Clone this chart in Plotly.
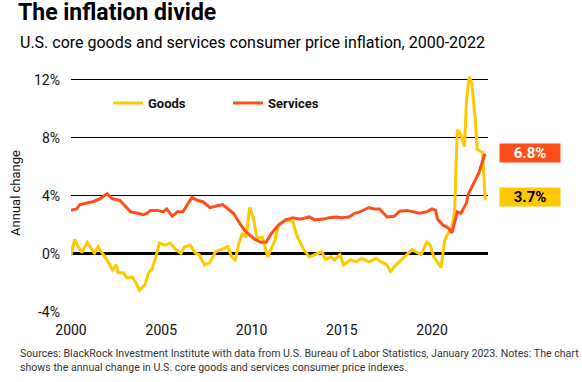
import plotly.graph_objects as go

# ---- data (decimal years, annual % change) ----
services_x = [2000.0, 2000.3, 2000.5, 2000.8, 2001.2, 2001.6, 2002.0, 2002.3, 2002.7, 2003.0,
              2003.3, 2003.7, 2004.0, 2004.2, 2004.4, 2004.8, 2005.1, 2005.3, 2005.6, 2005.9,
              2006.2, 2006.5, 2006.7, 2007.0, 2007.3, 2007.7, 2008.0, 2008.4, 2008.7, 2009.0,
              2009.3, 2009.6, 2009.9, 2010.2, 2010.5, 2010.8, 2011.1, 2011.5, 2011.9, 2012.3,
              2012.7, 2013.2, 2013.5, 2014.0, 2014.3, 2014.7, 2015.0, 2015.4, 2015.7, 2016.0,
              2016.5, 2016.8, 2017.1, 2017.5, 2017.9, 2018.2, 2018.6, 2019.0, 2019.3, 2019.7,
              2020.0, 2020.2, 2020.3, 2020.6, 2020.9, 2021.1, 2021.3, 2021.4, 2021.6, 2021.9,
              2022.0, 2022.3, 2022.6, 2022.8, 2022.9, 2023.0]
services_y = [3.0, 3.1, 3.4, 3.5, 3.6, 3.8, 4.15, 3.8, 3.7, 3.3,
              2.9, 2.8, 2.7, 2.8, 3.0, 3.0, 2.9, 3.1, 2.6, 2.9,
              2.9, 3.5, 3.9, 3.7, 3.6, 3.2, 3.3, 3.4, 3.1, 2.8,
              2.2, 1.65, 1.3, 1.0, 0.8, 0.8, 1.4, 2.0, 2.35, 2.5,
              2.4, 2.55, 2.35, 2.4, 2.5, 2.55, 2.5, 2.55, 2.8, 2.9,
              3.2, 3.1, 3.1, 2.55, 2.6, 2.95, 3.0, 2.9, 2.8, 2.9,
              3.1, 3.0, 2.4, 2.0, 1.8, 1.45, 2.3, 2.9, 2.8, 3.5,
              4.1, 4.9, 5.6, 6.4, 6.8, 6.8]

goods_x = [2000.0, 2000.2, 2000.4, 2000.6, 2000.9, 2001.1, 2001.3, 2001.5, 2001.7, 2002.0,
           2002.3, 2002.5, 2002.6, 2002.9, 2003.1, 2003.4, 2003.6, 2003.8, 2004.1, 2004.3,
           2004.5, 2004.7, 2004.9, 2005.2, 2005.5, 2005.8, 2006.1, 2006.3, 2006.6, 2006.9,
           2007.1, 2007.4, 2007.7, 2008.0, 2008.3, 2008.7, 2008.9, 2009.1, 2009.3, 2009.5,
           2009.7, 2009.9, 2010.1, 2010.3, 2010.6, 2010.9, 2011.3, 2011.5, 2011.9, 2012.3,
           2012.5, 2012.7, 2012.9, 2013.2, 2013.5, 2013.9, 2014.1, 2014.4, 2014.6, 2014.9,
           2015.1, 2015.5, 2015.8, 2016.1, 2016.5, 2016.9, 2017.2, 2017.5, 2017.7, 2018.0,
           2018.3, 2018.6, 2018.9, 2019.1, 2019.4, 2019.7, 2019.9, 2020.1, 2020.3, 2020.5,
           2020.7, 2020.9, 2021.1, 2021.25, 2021.4, 2021.6, 2021.8, 2021.9, 2022.05, 2022.2,
           2022.4, 2022.5, 2022.8, 2022.95]
goods_y = [-0.1, 1.0, 0.5, 0.1, 0.8, 0.4, 0.05, 0.5, 0.1, -0.4,
           -1.1, -0.75, -1.3, -1.3, -1.65, -1.6, -2.0, -2.5, -2.1, -1.3,
           -1.0, -0.2, 0.75, 0.6, 0.75, 0.3, 0.05, 0.5, 0.6, 0.05,
           -0.05, -0.75, -0.6, 0.15, 0.3, 0.5, -0.2, -0.4, 0.75, 1.45,
           1.15, 3.2, 2.5, 1.1, 1.15, -0.2, 0.95, 2.0, 2.35, 2.2,
           1.3, 0.8, 0.3, -0.2, -0.05, 0.15, -0.4, -0.2, -0.4, -0.05,
           -0.75, -0.4, -0.55, -0.3, -0.55, -0.3, -0.55, -0.75, -1.2, -0.75,
           -0.4, -0.05, 0.3, 0.15, -0.05, 0.8, 0.6, -0.2, -0.6, -0.95,
           0.95, 1.45, 1.8, 3.0, 8.55, 8.2, 7.4, 10.4, 12.2, 11.8,
           9.2, 7.2, 7.0, 3.7]

x_ticks = [2000, 2005, 2010, 2015, 2020]
y_ticks = [-4, 0, 4, 8, 12]
y_tick_labels = ["-4%", "0%", "4%", "8%", "12%"]

end_labels = ["6.8%", "3.7%"]
end_values = [6.95, 3.9]

GOLD = "#FFC800"
ORANGE = "#FF4E1B"
FONT = "Roboto, sans-serif"

fig = go.Figure()
fig.add_trace(go.Scatter(x=goods_x, y=goods_y, mode="lines", name="Goods",
                         line=dict(color=GOLD, width=3)))
fig.add_trace(go.Scatter(x=services_x, y=services_y, mode="lines", name="Services",
                         line=dict(color=ORANGE, width=3)))

W, H = 582, 382
L, R, T, B = 71, 94, 74, 70
pw = W - L - R
ph = H - T - B

def px_x(px):
    return (px - L) / pw

def px_y(py):
    return (H - B - py) / ph

fig.update_layout(
    width=W, height=H,
    margin=dict(l=L, r=R, t=T, b=B, autoexpand=False),
    paper_bgcolor="white", plot_bgcolor="white",
    font=dict(family=FONT, color="#111"),
    showlegend=True,
    legend=dict(orientation="h", x=px_x(108), y=px_y(103), xanchor="left", yanchor="middle",
                entrywidth=75, entrywidthmode="pixels",
                font=dict(size=13, weight="bold", color="#111"),
                bgcolor="rgba(0,0,0,0)"),
    title=dict(text="<b>The inflation divide</b>", xref="container", x=18 / W, xanchor="left",
               yref="container", y=1 - 4 / H, yanchor="top",
               font=dict(size=23, family=FONT, color="#000")),
    xaxis=dict(range=[2000, 2023.1], tickvals=x_ticks, ticktext=[str(v) for v in x_ticks],
               showgrid=False, zeroline=False, showline=False, ticks="", automargin=False,
               tickfont=dict(size=14, family=FONT, color="#111"), ticklabelstandoff=8),
    yaxis=dict(range=[-4, 12.4], tickvals=y_ticks, ticktext=y_tick_labels,
               showgrid=True, gridcolor="#000", gridwidth=1.2,
               zeroline=True, zerolinecolor="#000", zerolinewidth=2.5,
               showline=False, ticks="", automargin=False,
               tickfont=dict(size=14, family=FONT, color="#111"), ticklabelstandoff=10,
               title=dict(text="Annual change", font=dict(size=13, family=FONT, color="#111"),
                          standoff=10)),
)

annotations = [
    dict(text="U.S. core goods and services consumer price inflation, 2000-2022",
         xref="paper", yref="paper", x=px_x(18), y=px_y(31), xanchor="left", yanchor="top",
         showarrow=False, font=dict(size=16, family=FONT, color="#000")),
    dict(text="Sources: BlackRock Investment Institute with data from U.S. Bureau of Labor Statistics, January 2023. Notes: The chart<br>shows the annual change in U.S. core goods and services consumer price indexes.",
         xref="paper", yref="paper", x=px_x(18), y=px_y(345), xanchor="left", yanchor="top",
         align="left", showarrow=False, font=dict(size=10.6, family=FONT, color="#333")),
]
box_colors = [ORANGE, GOLD]
text_colors = ["#fff", "#000"]
for lab, val, bc, tc in zip(end_labels, end_values, box_colors, text_colors):
    annotations.append(dict(text="<b>" + lab + "</b>", xref="paper", yref="y",
                            x=px_x(530), y=val, xanchor="center", yanchor="middle",
                            showarrow=False, bgcolor=bc, width=58, height=16,
                            font=dict(size=15, family=FONT, color=tc)))
fig.update_layout(annotations=annotations)

fig.write_html("out.html", config={"displayModeBar": False},
               post_script="document.body.style.margin='0';")
